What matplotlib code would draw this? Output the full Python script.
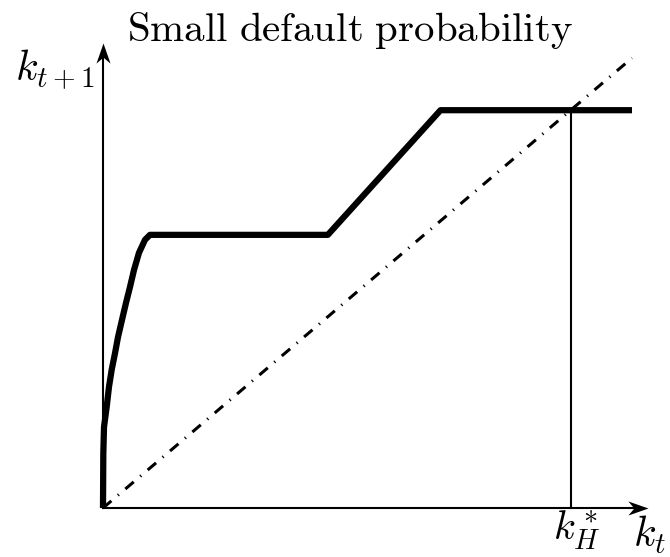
import matplotlib
matplotlib.use('Agg')
import matplotlib.pyplot as plt
from matplotlib.path import Path

plt.rcParams['mathtext.fontset'] = 'cm'

# savings policy k_{t+1}(k_t): steep concave start, flat, rising, flat cap
k_now = [0.0, 0.0006, 0.0019, 0.0070, 0.0113, 0.0164, 0.0227, 0.0284, 0.0359,
         0.0435, 0.051, 0.0586, 0.0680, 0.0794, 0.0888, 0.425, 0.638, 1.0]
k_next = [0.0, 0.121, 0.180, 0.225, 0.269, 0.307, 0.344, 0.380, 0.418,
          0.456, 0.491, 0.529, 0.567, 0.596, 0.607, 0.607, 0.884, 0.884]

# 45 degree line and the high steady state
diag = [0.0, 1.0]
k_star_high = 0.884

title = r'$\mathrm{Small\ default\ probability}$'

fig = plt.figure(figsize=(6.7, 5.57), dpi=100)
ax = fig.add_axes([0, 0, 1, 1])
ax.set_xlim(-103 / 529, 567 / 529)
ax.set_ylim(-49 / 450, 508 / 450)
ax.axis('off')

# axes lines with stealth-style heads (tip at marker origin)
x_tip, y_tip = 1.030, 1.033
head_right = Path([(0, 0), (-2, 0.7), (-1.4, 0), (-2, -0.7), (0, 0)],
                  [Path.MOVETO, Path.LINETO, Path.LINETO, Path.LINETO, Path.CLOSEPOLY])
head_up = Path([(0, 0), (0.7, -2), (0, -1.4), (-0.7, -2), (0, 0)],
               [Path.MOVETO, Path.LINETO, Path.LINETO, Path.LINETO, Path.CLOSEPOLY])
ax.plot([0, x_tip - 0.02], [0, 0], color='k', lw=1.5)
ax.plot([0, 0], [0, y_tip - 0.02], color='k', lw=1.5)
ax.plot(x_tip, 0, marker=head_right, ms=29, color='k', mew=0)
ax.plot(0, y_tip, marker=head_up, ms=29, color='k', mew=0)

ax.plot(diag, diag, color='k', lw=2.2, dashes=(3.6, 2.8, 0.4, 2.8))
ax.plot([k_star_high, k_star_high], [0, k_star_high], color='k', lw=1.5)
ax.plot(k_now, k_next, color='k', lw=4.5, solid_joinstyle='round', solid_capstyle='butt')

ax.text(-0.091, 0.975, r'$k_{t+1}$', fontsize=30, ha='center', va='center')
ax.text(1.034, -0.06, r'$k_t$', fontsize=30, ha='center', va='center')
ax.text(0.896, -0.05, r'$k_H^*$', fontsize=29, ha='center', va='center')
ax.text(0.467, 1.062, title, fontsize=29.5, ha='center', va='center')

fig.savefig('out.png', dpi=100)
